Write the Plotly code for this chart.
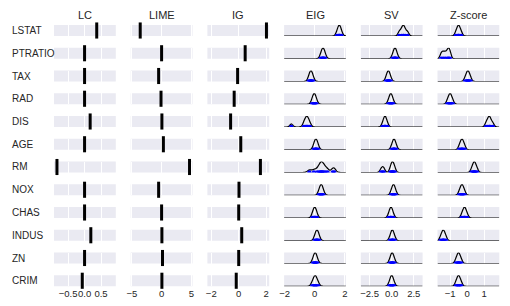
import plotly.graph_objects as go

features = ["LSTAT", "PTRATIO", "TAX", "RAD", "DIS", "AGE", "RM", "NOX", "CHAS", "INDUS", "ZN", "CRIM"]
methods = ["LC", "LIME", "IG", "EIG", "SV", "Z-score"]

# point attributions (first three columns)
lc_vals = [0.37, 0.0, 0.0, 0.0, 0.17, 0.0, -0.84, 0.0, 0.0, 0.19, 0.0, -0.07]
lime_vals = [-3.6, 0.0, -0.5, -0.1, 0.05, 0.3, 4.7, -0.5, 0.0, 0.05, 0.15, 0.05]
ig_vals = [2.02, 0.47, -0.08, -0.33, -0.59, 0.15, 1.58, 0.02, 0.0, 0.22, 0.0, -0.18]

# sampled attributions (density columns)
eig_samples = [
    [1.48, 1.57, 1.63, 1.63, 1.69, 1.78],
    [0.40, 0.49, 0.55, 0.55, 0.61, 0.70],
    [-0.40, -0.31, -0.25, -0.25, -0.19, -0.10],
    [-0.18, -0.09, -0.03, -0.03, 0.03, 0.12],
    [-1.55, -0.72, -0.62, -0.54, -0.50, -0.44, -0.32],
    [-0.07, 0.02, 0.08, 0.08, 0.14, 0.23],
    [-0.35, -0.05, 0.18, 0.32, 0.40, 0.45, 0.50, 0.58, 0.70, 0.85, 1.20, 1.30],
    [0.28, 0.37, 0.43, 0.43, 0.49, 0.58],
    [-0.15, -0.06, 0.0, 0.0, 0.06, 0.15],
    [0.0, 0.09, 0.15, 0.15, 0.21, 0.30],
    [-0.12, -0.03, 0.03, 0.03, 0.09, 0.18],
    [-0.17, -0.05, 0.03, 0.03, 0.11, 0.23],
]
sv_samples = [
    [0.85, 1.10, 1.28, 1.35, 1.52, 1.80],
    [0.10, 0.27, 0.37, 0.37, 0.47, 0.64],
    [-0.65, -0.48, -0.38, -0.38, -0.28, -0.11],
    [-0.37, -0.20, -0.10, -0.10, 0.0, 0.17],
    [-1.03, -0.86, -0.76, -0.76, -0.66, -0.49],
    [-0.01, 0.16, 0.26, 0.26, 0.36, 0.53],
    [-1.20, -1.02, -0.88, -0.15, -0.02, 0.07, 0.12, 0.22, 0.35],
    [-0.07, 0.10, 0.20, 0.20, 0.30, 0.47],
    [-0.35, -0.18, -0.08, -0.08, 0.02, 0.19],
    [-0.20, -0.03, 0.07, 0.07, 0.17, 0.34],
    [-0.22, -0.05, 0.05, 0.05, 0.15, 0.32],
    [-0.27, -0.10, 0.0, 0.0, 0.10, 0.27],
]
z_samples = [
    [-0.66, -0.57, -0.50, -0.50, -0.43, -0.34],
    [-1.52, -1.40, -1.28, -1.15, -1.08, -1.00],
    [-0.11, -0.02, 0.05, 0.05, 0.12, 0.21],
    [-1.16, -1.07, -1.00, -1.00, -0.93, -0.84],
    [1.12, 1.22, 1.30, 1.32, 1.40, 1.52],
    [-0.46, -0.37, -0.30, -0.30, -0.23, -0.14],
    [0.27, 0.36, 0.43, 0.43, 0.50, 0.59],
    [-0.46, -0.37, -0.30, -0.30, -0.23, -0.14],
    [-0.31, -0.22, -0.15, -0.15, -0.08, 0.01],
    [-1.56, -1.47, -1.40, -1.40, -1.33, -1.24],
    [-0.66, -0.57, -0.50, -0.50, -0.43, -0.34],
    [-0.66, -0.57, -0.50, -0.50, -0.43, -0.34],
]

x_ranges = [[-0.93, 0.95], [-5.2, 5.2], [-2.28, 2.22], [-2.03, 2.07], [-3.5, 3.5], [-1.74, 1.9]]
tick_vals = [[-0.5, 0.0, 0.5], [-5, 0, 5], [-2, 0, 2], [-2, 0, 2], [-2.5, 0.0, 2.5], [-1, 0, 1]]
tick_text = [["−0.5", "0.0", "0.5"], ["−5", "0", "5"], ["−2", "0", "2"], ["−2", "0", "2"],
             ["−2.5", "0.0", "2.5"], ["−1", "0", "1"]]

# kernel bandwidths (style of the density estimate)
col_bw = [None, None, None, 0.1, 0.16, 0.08]
bw_override = {(3, 6): 0.13}

W, H = 510, 306
FONT = "Liberation Sans, Arial, sans-serif"
TXT = "#262626"
col_x0 = [54 + i * 76.7 for i in range(6)]
col_w = 61.8
row_top = [25 + j * 22.75 for j in range(12)]
row_h = 11

fig = go.Figure()
layout = dict(width=W, height=H, margin=dict(l=0, r=0, t=0, b=0),
              paper_bgcolor="white", plot_bgcolor="#EAEAF2", showlegend=False,
              violinmode="overlay", violingap=0,
              font=dict(family=FONT, color=TXT, size=9))

point_cols = [lc_vals, lime_vals, ig_vals]
dens_cols = [eig_samples, sv_samples, z_samples]

for r in range(12):
    for c in range(6):
        k = r * 6 + c + 1
        xa = "x" if k == 1 else f"x{k}"
        ya = "y" if k == 1 else f"y{k}"
        xkey = "xaxis" if k == 1 else f"xaxis{k}"
        ykey = "yaxis" if k == 1 else f"yaxis{k}"
        x0 = col_x0[c]
        top = row_top[r]
        layout[xkey] = dict(
            domain=[x0 / W, (x0 + col_w) / W], anchor=ya, range=x_ranges[c],
            tickvals=tick_vals[c], ticktext=tick_text[c], showticklabels=(r == 11),
            tickangle=0, ticks="", showgrid=True, gridcolor="white", gridwidth=1,
            zeroline=False, showline=False, automargin=False,
            tickfont=dict(size=9.5, color=TXT, family=FONT), fixedrange=True)
        yr = [0, 1] if c < 3 else [0, 1.02]
        layout[ykey] = dict(
            domain=[1 - (top + row_h) / H, 1 - top / H], anchor=xa, range=yr,
            showticklabels=False, ticks="", showgrid=False, zeroline=False, showline=False,
            automargin=False, fixedrange=True)
        if c < 3:
            fig.add_trace(go.Scatter(
                x=[point_cols[c][r]], y=[0.5], xaxis=xa, yaxis=ya, mode="markers",
                cliponaxis=False,
                marker=dict(symbol="line-ns", size=11.5, color="black",
                            line=dict(color="black", width=3))))
        else:
            fig.add_trace(go.Violin(
                x=dens_cols[c - 3][r], y0=0, orientation="h", side="positive",
                xaxis=xa, yaxis=ya, width=2,
                bandwidth=bw_override.get((c, r), col_bw[c]),
                spanmode="manual", span=x_ranges[c], scalemode="width",
                fillcolor="rgba(0,0,0,0)", line=dict(color="black", width=1.2),
                points="all", jitter=0, pointpos=0,
                marker=dict(color="blue", size=4.5, line=dict(width=0))))

annotations = []
for c, m in enumerate(methods):
    annotations.append(dict(text=m, x=(col_x0[c] + col_w / 2) / W, y=1 - 15 / H,
                            xref="paper", yref="paper", showarrow=False,
                            xanchor="center", yanchor="middle",
                            font=dict(size=11, color=TXT, family=FONT)))
for r, f in enumerate(features):
    annotations.append(dict(text=f, x=10 / W, y=1 - (row_top[r] + row_h / 2) / H,
                            xref="paper", yref="paper", showarrow=False,
                            xanchor="left", yanchor="middle",
                            font=dict(size=10, color=TXT, family=FONT)))
layout["annotations"] = annotations
fig.update_layout(**layout)
fig.write_html("out.html", config={"displayModeBar": False},
               post_script="document.body.style.margin='0px';")
